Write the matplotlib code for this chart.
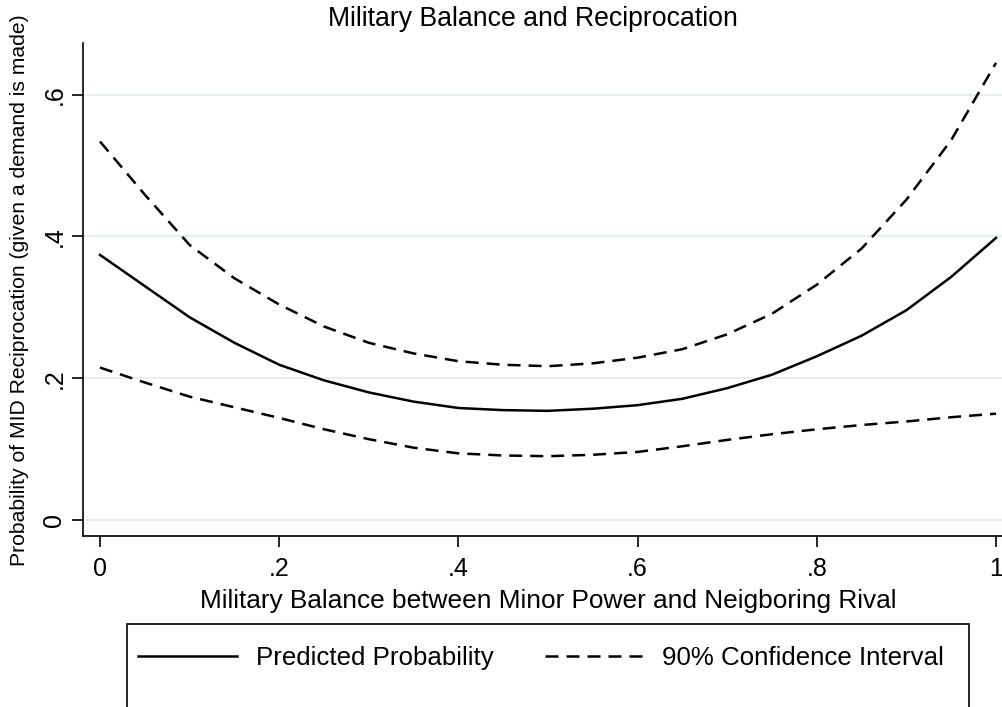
import matplotlib
matplotlib.use('Agg')
import matplotlib.pyplot as plt
from matplotlib.lines import Line2D
from matplotlib.patches import Rectangle

plt.rcParams['font.family'] = ['Liberation Sans', 'DejaVu Sans']

# military balance values where the predictions were evaluated
balance = [0.0, 0.05, 0.1, 0.15, 0.2, 0.25, 0.3, 0.35, 0.4, 0.45, 0.5, 0.55, 0.6, 0.65,
           0.7, 0.75, 0.8, 0.85, 0.9, 0.95, 1.0]

# predicted probability of reciprocation
predicted = [0.374, 0.330, 0.286, 0.250, 0.219, 0.197, 0.180, 0.167, 0.158, 0.155, 0.154,
             0.157, 0.162, 0.171, 0.186, 0.205, 0.231, 0.260, 0.296, 0.343, 0.398]

# 90% confidence bounds
upper_ci = [0.534, 0.459, 0.388, 0.341, 0.304, 0.273, 0.250, 0.235, 0.224, 0.219, 0.217,
            0.221, 0.229, 0.241, 0.262, 0.291, 0.332, 0.383, 0.452, 0.536, 0.645]
lower_ci = [0.215, 0.194, 0.174, 0.159, 0.144, 0.128, 0.114, 0.102, 0.094, 0.091, 0.090,
            0.092, 0.096, 0.104, 0.113, 0.121, 0.128, 0.134, 0.139, 0.145, 0.150]

x_ticks = [0, 0.2, 0.4, 0.6, 0.8, 1.0]
x_tick_labels = ['0', '.2', '.4', '.6', '.8', '1']
y_ticks = [0, 0.2, 0.4, 0.6]
y_tick_labels = ['0', '.2', '.4', '.6']

W, H = 1003, 707
fig = plt.figure(figsize=(W / 100, H / 100), dpi=100)
ax = fig.add_axes([83 / W, 1 - 536 / H, (W - 83) / W, (536 - 43) / H])

lw = 1.8
dash = (0, (5.2, 3.2))
ax.plot(balance, upper_ci, color='black', lw=lw, linestyle=dash)
ax.plot(balance, predicted, color='black', lw=lw)
ax.plot(balance, lower_ci, color='black', lw=lw, linestyle=dash)

ax.set_xlim(-0.019, 1.0078)
ax.set_ylim(-0.0226, 0.673)

for s in ['top', 'right']:
    ax.spines[s].set_visible(False)
for s in ['left', 'bottom']:
    ax.spines[s].set_linewidth(1.2)

ax.set_yticks(y_ticks)
ax.set_yticklabels(y_tick_labels, rotation=90, va='center')
ax.set_xticks(x_ticks)
ax.set_xticklabels(x_tick_labels)
ax.tick_params(axis='both', length=8, width=1.2, labelsize=18)
ax.tick_params(axis='x', pad=7)
ax.tick_params(axis='y', pad=4)
ax.yaxis.grid(True, color='#e8eff2', lw=1.5)
ax.set_axisbelow(True)

fig.text(533 / W, 1 - 19 / H, 'Military Balance and Reciprocation', ha='center', va='center', fontsize=19.2)
fig.text(548 / W, 1 - 601 / H, 'Military Balance between Minor Power and Neigboring Rival',
         ha='center', va='center', fontsize=18.9)
fig.text(19.5 / W, 1 - 290 / H, 'Probability of MID Reciprocation (given a demand is made)',
         ha='center', va='center', rotation=90, fontsize=15.2)

# legend box runs off the bottom edge
fig.patches.append(Rectangle((127 / W, -0.1), (969 - 127) / W, 0.1 + (707 - 624) / H,
                             transform=fig.transFigure, fill=False, lw=1.2, edgecolor='black'))
handles = [Line2D([], [], color='black', lw=lw),
           Line2D([], [], color='black', lw=lw, linestyle=dash)]
fig.legend(handles, ['Predicted Probability', '90% Confidence Interval'], ncol=2,
           loc='center left', bbox_to_anchor=(138 / W, 1 - 658 / H), frameon=False, borderpad=0,
           borderaxespad=0, fontsize=18.6, handlelength=3.85, handletextpad=0.7, columnspacing=2.0)

fig.savefig('out.png', dpi=100)
